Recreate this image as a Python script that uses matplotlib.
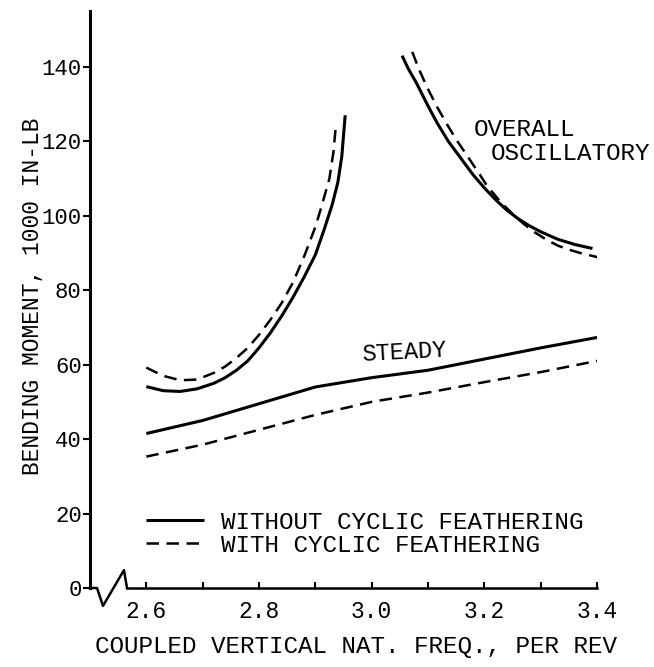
import numpy as np
import matplotlib
matplotlib.use('Agg')
import matplotlib.pyplot as plt
from matplotlib.lines import Line2D

plt.rcParams['font.family'] = 'Liberation Mono'

# Steady bending moment (1000 in-lb) vs coupled vertical natural frequency
steady_x = [2.6, 2.7, 2.8, 2.9, 3.0, 3.1, 3.2, 3.3, 3.4]
steady_without = [41.5, 45.0, 49.5, 54.0, 56.5, 58.5, 61.5, 64.5, 67.3]
steady_with = [35.3, 38.5, 42.5, 46.5, 50.0, 52.5, 55.3, 58.0, 61.0]

# Overall oscillatory, left branch
osc_left_x_without = [2.60, 2.63, 2.66, 2.69, 2.72, 2.74, 2.76, 2.78, 2.80, 2.82, 2.84,
                      2.86, 2.88, 2.90, 2.915, 2.93, 2.94, 2.947, 2.953]
osc_left_without = [54.1, 53.0, 52.8, 53.5, 55.0, 56.5, 58.5, 61.0, 64.5, 68.5, 73.0,
                    78.0, 83.5, 89.5, 96.0, 103.0, 109.0, 116.0, 127.0]
osc_left_x_with = [2.60, 2.63, 2.66, 2.69, 2.72, 2.74, 2.76, 2.78, 2.80, 2.82, 2.84,
                   2.86, 2.88, 2.90, 2.912, 2.925, 2.932, 2.937]
osc_left_with = [59.2, 57.0, 55.8, 56.0, 57.8, 59.5, 61.8, 64.5, 68.0, 72.0, 76.5,
                 82.0, 89.0, 97.0, 103.0, 110.0, 117.0, 125.0]

# Overall oscillatory, right branch
osc_right_x_without = [3.054, 3.065, 3.08, 3.10, 3.116, 3.136, 3.158, 3.18, 3.20,
                       3.22, 3.24, 3.26, 3.28, 3.30, 3.33, 3.36, 3.392]
osc_right_without = [143.0, 139.5, 135.5, 129.5, 125.0, 120.0, 115.5, 111.0, 107.5,
                     104.3, 101.5, 99.2, 97.3, 95.7, 93.7, 92.3, 91.2]
osc_right_x_with = [3.072, 3.085, 3.10, 3.117, 3.134, 3.15, 3.17, 3.19, 3.205, 3.23,
                    3.25, 3.27, 3.29, 3.31, 3.33, 3.35, 3.37, 3.403]
osc_right_with = [144.0, 139.0, 134.0, 129.0, 124.5, 120.5, 116.0, 111.5, 108.0, 103.5,
                  100.5, 97.8, 95.5, 93.6, 92.0, 90.9, 90.0, 88.8]

x_ticks = [2.6, 2.7, 2.8, 2.9, 3.0, 3.1, 3.2, 3.3, 3.4]
x_labels = ['2.6', '', '2.8', '', '3.0', '', '3.2', '', '3.4']
y_ticks = [0, 20, 40, 60, 80, 100, 120, 140]

SOLID = dict(color='black', linewidth=2.2, solid_capstyle='butt', solid_joinstyle='round')
DASHED = dict(color='black', linewidth=1.8, dashes=(5, 3))

fig = plt.figure(figsize=(6.54, 6.67), dpi=100)
ax = fig.add_axes([90 / 654, 79 / 667, 507 / 654, 577 / 667])

ax.plot(steady_x, steady_without, **SOLID)
ax.plot(steady_x, steady_with, **DASHED)
ax.plot(osc_left_x_without, osc_left_without, **SOLID)
ax.plot(osc_left_x_with, osc_left_with, **DASHED)
ax.plot(osc_right_x_without, osc_right_without, **SOLID)
ax.plot(osc_right_x_with, osc_right_with, **DASHED)

ax.set_xlim(2.5, 3.4)
ax.set_ylim(0, 155)

for s in ['top', 'right']:
    ax.spines[s].set_visible(False)
ax.spines['left'].set_linewidth(2.2)
ax.spines['bottom'].set_linewidth(1.8)
ax.spines['bottom'].set_bounds(2.566, 3.4)

# axis break zig-zag at the left end of the x axis
ax.add_line(Line2D([0, 0.0138, 0.0256, 0.067, 0.073], [0, 0, -0.031, 0.031, 0],
                   transform=ax.transAxes, color='black', linewidth=1.8, clip_on=False))

ax.set_xticks(x_ticks)
ax.set_xticklabels(x_labels)
ax.set_yticks(y_ticks)
ax.tick_params(axis='x', direction='in', length=4, width=1.5, pad=9, labelsize=16.5)
ax.tick_params(axis='y', direction='out', length=5, width=1.5, pad=1, labelsize=16)

ax.set_xlabel('COUPLED VERTICAL NAT. FREQ., PER REV', fontsize=17.5)
ax.xaxis.set_label_coords(0.525, -0.082)
ax.set_ylabel('BENDING MOMENT, 1000 IN-LB', fontsize=16.5)
ax.yaxis.set_label_coords(-0.09, 0.505)

ax.text(3.058, 63.3, 'STEADY', fontsize=17, ha='center', va='center', rotation=3)
ax.text(3.181, 123.3, 'OVERALL', fontsize=17.5, ha='left', va='center')
ax.text(3.211, 116.6, 'OSCILLATORY', fontsize=17.5, ha='left', va='center', clip_on=False)

handles = [Line2D([], [], **SOLID), Line2D([], [], **DASHED)]
ax.legend(handles, ['WITHOUT CYCLIC FEATHERING', 'WITH CYCLIC FEATHERING'],
          loc='upper left', bbox_to_anchor=(0.110, 0.134), frameon=False,
          fontsize=17.5, handlelength=2.4, handletextpad=0.7, labelspacing=0.0,
          borderpad=0, borderaxespad=0)

fig.savefig('out.png', dpi=100)
